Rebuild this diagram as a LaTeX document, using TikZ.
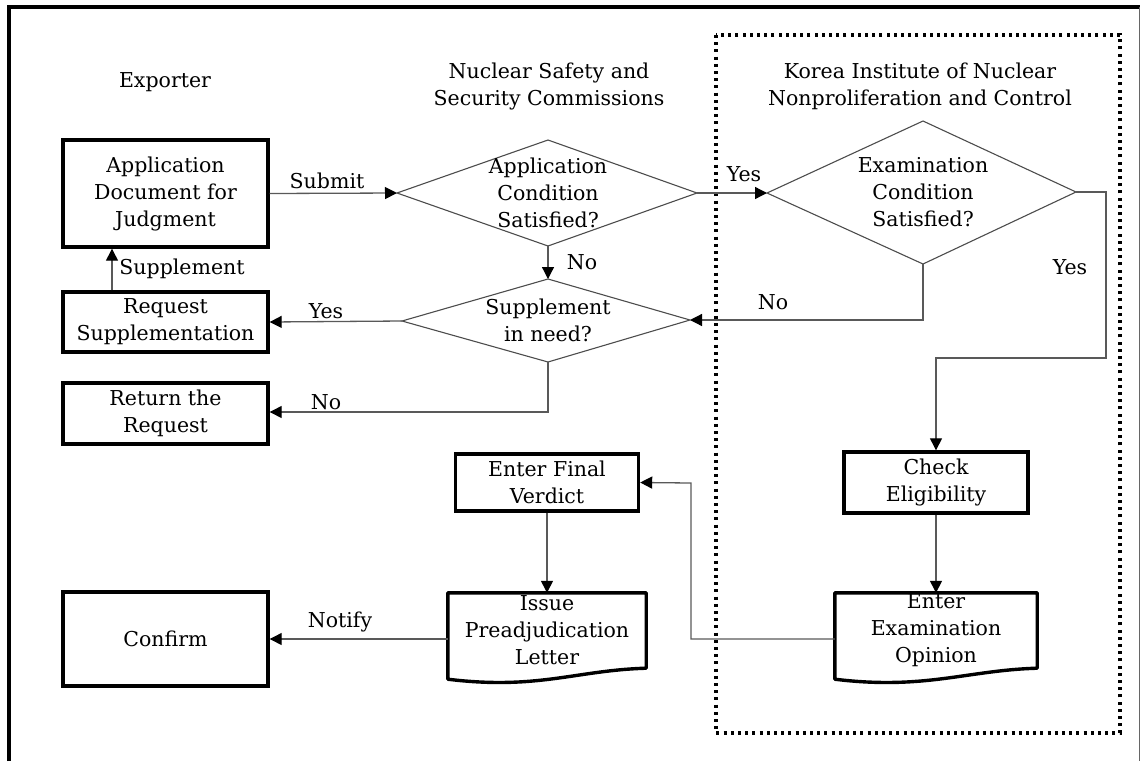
\documentclass[tikz,border=0pt]{standalone}
\usepackage{fontspec}
\setmainfont{DejaVu Serif}
\usetikzlibrary{shapes.geometric,arrows.meta}
\begin{document}
\begin{tikzpicture}[x=1pt,y=-1pt,
  every node/.style={font=\fontsize{20.5}{27}\selectfont, align=center, inner sep=0pt},
  box/.style={draw=black, line width=3.4pt, rectangle},
  dec/.style={draw=black!70, line width=1.1pt},
  docbox/.style={rectangle},
  conn/.style={draw=black!65, line width=1.3pt},
  arr/.style={conn, -{Triangle[length=12pt,width=12pt,fill=black,color=black]}},
  lbl/.style={font=\fontsize{20.5}{27}\selectfont},
  docline/.style={line width=3.4pt, line join=round}
]
\useasboundingbox (0,0) rectangle (1140,761);
% outer frame
\draw[line width=3.2pt] (9,761) -- (9,7) -- (1140,7);
\draw[black!60, line width=1pt] (1139,7) -- (1139,761);
% dotted region
\draw[line width=3.2pt, dash pattern=on 3pt off 4.2pt] (716,35) rectangle (1120,733);

% headers
\node (hexp) at (165,82) {Exporter};
\node (hnssc) at (549,86) {Nuclear Safety and\\Security Commissions};
\node (hkinac) at (920,86) {Korea Institute of Nuclear\\Nonproliferation and Control};

% boxes
\node[box, minimum width=205pt, minimum height=107pt] (app) at (165.5,193.5) {Application\\Document for\\Judgment};
\node[box, minimum width=205pt, minimum height=60pt] (req) at (165.5,322) {Request\\Supplementation};
\node[box, minimum width=205pt, minimum height=61pt] (ret) at (165.5,413.5) {Return the\\Request};
\node[box, minimum width=205pt, minimum height=94pt] (conf) at (165.5,639) {Confirm};
\node[box, minimum width=183pt, minimum height=57pt] (efv) at (547,482.5) {Enter Final\\Verdict};
\node[box, minimum width=184pt, minimum height=61pt] (chk) at (936,482.5) {Check\\Eligibility};

% document shapes
\node[docbox, minimum width=198pt, minimum height=75pt] (ipl) at (547,630.5) {Issue\\Preadjudication\\Letter};
\draw[docline] (ipl.south west) -- (ipl.north west) -- (ipl.north east) -- (ipl.south east)
  .. controls ([xshift=-70pt,yshift=-2pt]ipl.south east) and ([xshift=90pt,yshift=-22pt]ipl.south west) .. ([yshift=-11pt]ipl.south west) -- cycle;
\node[docbox, minimum width=202pt, minimum height=75pt] (eeo) at (936,630.5) {Enter\\Examination\\Opinion};
\draw[docline] (eeo.south west) -- (eeo.north west) -- (eeo.north east) -- (eeo.south east)
  .. controls ([xshift=-70pt,yshift=-2pt]eeo.south east) and ([xshift=90pt,yshift=-22pt]eeo.south west) .. ([yshift=-11pt]eeo.south west) -- cycle;

% diamonds
\draw[dec] (397,193) -- (548,140) -- (697,193) -- (548,246) -- cycle;
\node (d1) at (548,193) {Application\\Condition\\Satisfied?};
\coordinate (d1w) at (397,193); \coordinate (d1e) at (697,193); \coordinate (d1s) at (548,246);
\draw[dec] (402,321) -- (548,279) -- (690,320) -- (548,362) -- cycle;
\node (d2) at (548,320) {Supplement\\in need?};
\coordinate (d2w) at (402,321); \coordinate (d2e) at (690,320); \coordinate (d2n) at (548,279); \coordinate (d2s) at (548,362);
\draw[dec] (767,193) -- (923,121) -- (1076,192) -- (923,264) -- cycle;
\node (d3) at (923,192) {Examination\\Condition\\Satisfied?};
\coordinate (d3w) at (767,193); \coordinate (d3e) at (1076,192); \coordinate (d3s) at (923,264);

% connectors
\draw[arr] (app.east) -- (d1w);
\node[lbl] at (327,181) {Submit};
\draw[arr] (req.north -| 112,0) -- (app.south -| 112,0);
\node[lbl] at (182,269) {Supplement};
\draw[arr] (d1s) -- (d2n);
\node[lbl] at (582,262) {No};
\draw[arr] (d1e) -- (d3w);
\node[lbl] at (744,174) {Yes};
\draw[arr] (d3s) -- (923,320) -- (d2e);
\node[lbl] at (773,302) {No};
\draw[arr] (d3e) -- (1106,192) -- (1106,358) -- (936,358) -- (chk.north);
\node[lbl] at (1070,267) {Yes};
\draw[arr] (d2w) -- (req.east);
\node[lbl] at (326,311) {Yes};
\draw[arr] (d2s) -- (548,412) -- (ret.east |- 0,412);
\node[lbl] at (326,402) {No};
\draw[arr] (chk.south) -- (eeo.north);
\draw[arr] ([yshift=-8.5pt]eeo.west) -- (691,639) -- (691,483) -- (efv.east);
\draw[arr] (efv.south) -- (ipl.north);
\draw[arr] ([yshift=-8.5pt]ipl.west) -- (conf.east);
\node[lbl] at (340,622) {Notify};
\end{tikzpicture}
\end{document}
